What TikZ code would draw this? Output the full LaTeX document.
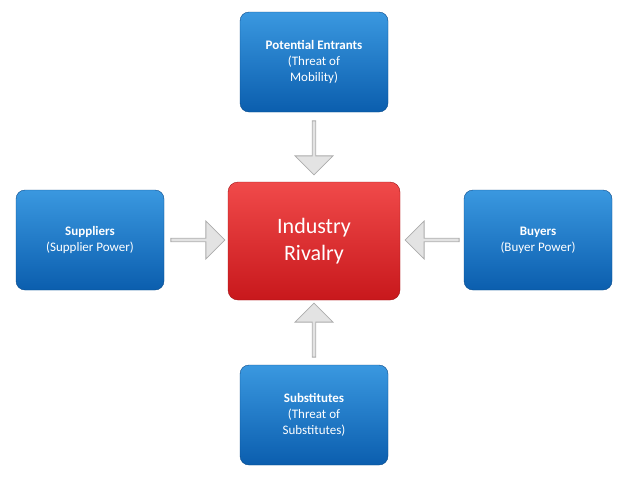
\documentclass[tikz,border=0pt]{standalone}
\usepackage{fontspec}
\setmainfont{Carlito}
\usetikzlibrary{shapes.arrows}
\definecolor{bluetop}{HTML}{3A98E0}
\definecolor{bluebot}{HTML}{0B5EAE}
\definecolor{redtop}{HTML}{F04A4A}
\definecolor{redbot}{HTML}{C8181C}
\begin{document}
\begin{tikzpicture}[x=1pt,y=-1pt,
 box/.style={rounded corners=9pt,minimum width=148pt,minimum height=100pt,top color=bluetop,bottom color=bluebot,draw=bluebot!80!black,text=white,align=center,font=\fontsize{13}{16}\selectfont},
 core/.style={rounded corners=10pt,minimum width=172pt,minimum height=118pt,top color=redtop,bottom color=redbot,draw=redbot!80!black,text=white,align=center,font=\fontsize{22}{27}\selectfont},
 barr/.style={single arrow,fill=gray!22,draw=gray!65,line width=0.8pt,minimum width=38pt,single arrow head extend=4pt,single arrow head indent=0pt,inner sep=0pt}]
\useasboundingbox (0,0) rectangle (627,480);
\node[box] (top) at (314,62) {\textbf{Potential Entrants}\\(Threat of\\Mobility)};
\node[box] (left) at (90,240) {\textbf{Suppliers}\\(Supplier Power)};
\node[box] (right) at (538,240) {\textbf{Buyers}\\(Buyer Power)};
\node[box] (bot) at (314,415) {\textbf{Substitutes}\\(Threat of\\Substitutes)};
\node[core] (mid) at (314,241) {Industry\\Rivalry};
\node[barr,minimum height=54pt,rotate=-90] (a1) at (314,147) {};
\node[barr,minimum height=54pt] (a2) at (197,240) {};
\node[barr,minimum height=54pt,rotate=180] (a3) at (433,240) {};
\node[barr,minimum height=54pt,rotate=90] (a4) at (314,331) {};
\end{tikzpicture}
\end{document}
